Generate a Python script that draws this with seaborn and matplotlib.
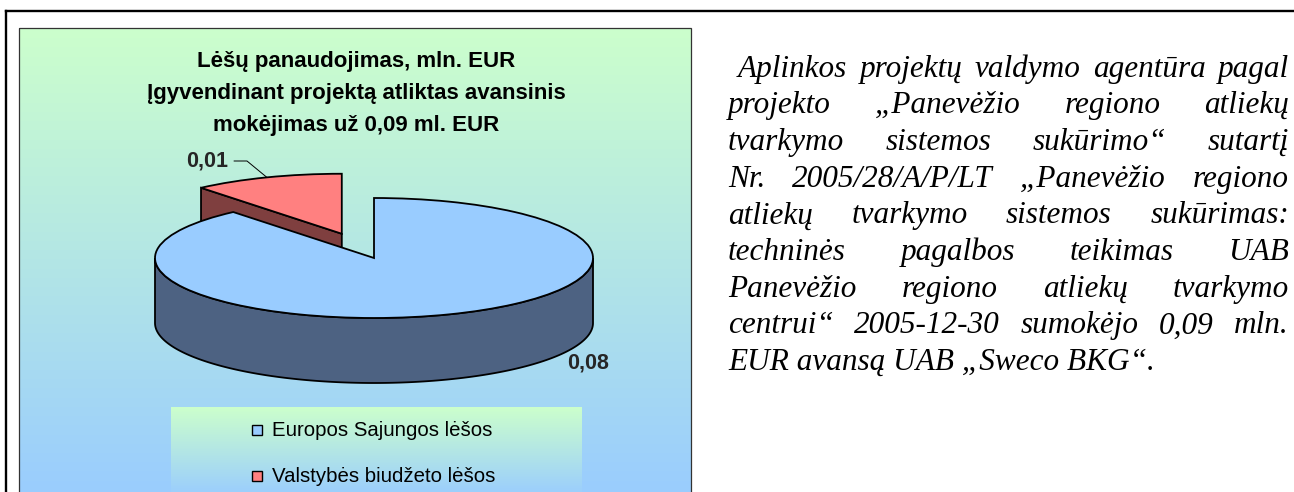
import numpy as np
import seaborn as sns
import matplotlib.pyplot as plt
from matplotlib.colors import LinearSegmentedColormap
from matplotlib.patches import Rectangle

sns.set_style("white")
plt.rcParams['font.family'] = ['Liberation Sans', 'DejaVu Sans']

# ---- data ----
categories = ["Europos Sajungos lėšos", "Valstybės biudžeto lėšos"]
values = [0.08, 0.01]
value_labels = ["0,08", "0,01"]
top_colors = ["#99ccff", "#ff8080"]
side_colors = ["#4d6282", "#7f3f3f"]
explode = [0.0, 0.43]

title_lines = [
    "Lėšų panaudojimas, mln. EUR",
    "Įgyvendinant projektą atliktas avansinis",
    "mokėjimas už 0,09 ml. EUR",
]

paragraph_lines = [
    "Aplinkos projektų valdymo agentūra pagal",
    "projekto „Panevėžio regiono atliekų",
    "tvarkymo sistemos sukūrimo“ sutartį",
    "Nr. 2005/28/A/P/LT „Panevėžio regiono",
    "atliekų tvarkymo sistemos sukūrimas:",
    "techninės pagalbos teikimas UAB",
    "Panevėžio regiono atliekų tvarkymo",
    "centrui“ 2005-12-30 sumokėjo 0,09 mln.",
    "EUR avansą UAB „Sweco BKG“.",
]

# ---- layout (pixels) ----
W, H = 1294, 492
CX, CY, RX, RY = 374, 258, 219, 60
DEPTH = 65 / RY

fig = plt.figure(figsize=(W / 100, H / 100), dpi=100)
ax = fig.add_axes([0, 0, 1, 1])
ax.set_xlim(0, W)
ax.set_ylim(H, 0)
ax.axis('off')

# outer frame
ax.plot([6, 6], [H, 11], color='black', lw=1.7, solid_capstyle='projecting')
ax.plot([6, W], [11, 11], color='black', lw=1.7, solid_capstyle='projecting')

# chart panel with vertical gradient
grad_cmap = LinearSegmentedColormap.from_list('panel', ['#ccffcc', '#99ccff'])
grad = np.linspace(0, 1, 256)[:, None]
ax.imshow(grad, extent=[19, 690.5, 500, 28], cmap=grad_cmap, aspect='auto', zorder=0)
ax.add_patch(Rectangle((19, 28), 671.5, 480, fill=False, ec='#333333', lw=0.9, zorder=1))

# title
for i, line in enumerate(title_lines):
    ax.text(356, 66.5 + i * 32, line, ha='center', va='baseline',
            fontsize=16, fontweight='bold', color='black')

# legend box
ax.imshow(grad, extent=[171, 582, 497, 407], cmap=grad_cmap, aspect='auto', zorder=1)
for i, (cat, col) in enumerate(zip(categories, top_colors)):
    yb = 436 + i * 46
    ax.add_patch(Rectangle((252, yb - 11), 10, 10, fc=col, ec='black', lw=1.0, zorder=2))
    ax.text(272, yb, cat, ha='left', va='baseline', fontsize=14.7, color='black', zorder=2)

# ---- 3D pie ----
ax_pie = fig.add_axes([0, 0, 1, 1])
wedges, _ = ax_pie.pie(values, colors=top_colors, explode=explode, startangle=90,
                       counterclock=False,
                       wedgeprops=dict(edgecolor='black', linewidth=1.3))
ax_pie.set_aspect('auto')
ax_pie.set_xlim(-CX / RX, (W - CX) / RX)
ax_pie.set_ylim((CY - H) / RY, CY / RY)
ax_pie.axis('off')


def to_px(x, y):
    return CX + RX * x, CY - RY * y


# back slices first (higher centre = further away)
order = sorted(range(len(wedges)), key=lambda k: -wedges[k].center[1])
z = 2
for k in order:
    w = wedges[k]
    cx, cy = w.center
    t1, t2 = w.theta1, w.theta2
    # radial faces
    for phi, sgn in ((t1, -1), (t2, 1)):
        normal = np.deg2rad(phi + sgn * 90)
        if np.sin(normal) < -1e-6:
            a = np.deg2rad(phi)
            rx_, ry_ = cx + np.cos(a), cy + np.sin(a)
            ax_pie.fill([cx, rx_, rx_, cx], [cy, ry_, ry_ - DEPTH, cy - DEPTH],
                        fc=side_colors[k], ec='black', lw=1.3, zorder=z)
    # outer curved face, front half only
    for sh in (-360, 0, 360):
        lo, hi = max(t1, 180 + sh), min(t2, 360 + sh)
        if hi > lo:
            a = np.deg2rad(np.linspace(lo, hi, 200))
            xs = cx + np.cos(a)
            ys = cy + np.sin(a)
            ax_pie.fill(np.r_[xs, xs[::-1]], np.r_[ys, ys[::-1] - DEPTH],
                        fc=side_colors[k], ec='black', lw=1.3, zorder=z)
    w.set_zorder(z + 1)
    z += 2

# value labels
red = wedges[1]
mid = np.deg2rad((red.theta1 + red.theta2) / 2)
mx, my = to_px(red.center[0] + np.cos(mid), red.center[1] + np.sin(mid))
ax.text(207, 166, value_labels[1], ha='center', va='baseline', fontsize=15.5,
        fontweight='bold', zorder=5)
ax.plot([234, 247, mx], [161, 161, my], color='black', lw=0.7, zorder=5)
ax.text(588, 369, value_labels[0], ha='center', va='baseline', fontsize=15.5,
        fontweight='bold', zorder=5)

# ---- justified paragraph on the right ----
PARA_LEFT, PARA_RIGHT = 728, 1289
PARA_TOP, PARA_STEP = 76.5, 36.7
renderer = fig.canvas.get_renderer()
para_font = dict(family=['Liberation Serif', 'DejaVu Serif'], style='italic',
                 fontsize=22.5, color='black', va='baseline', ha='left')
for i, line in enumerate(paragraph_lines):
    y = PARA_TOP + i * PARA_STEP
    left = PARA_LEFT + (10 if i == 0 else 0)
    if i == len(paragraph_lines) - 1:
        ax.text(left, y, line, **para_font)
        continue
    words = line.split()
    texts = [ax.text(0, y, wd, **para_font) for wd in words]
    widths = [t.get_window_extent(renderer).width for t in texts]
    gap = (PARA_RIGHT - left - sum(widths)) / (len(words) - 1)
    x = left
    for t, wd in zip(texts, widths):
        t.set_x(x)
        x += wd + gap

fig.savefig('out.png', dpi=100)
